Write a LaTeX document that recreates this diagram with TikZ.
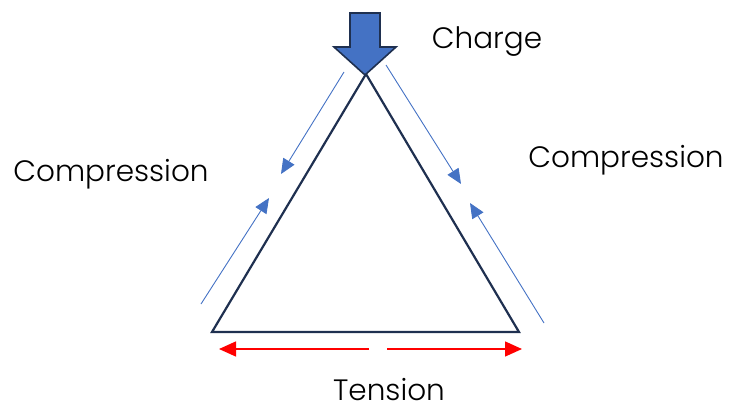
\documentclass[tikz,border=0pt]{standalone}
\usepackage{fontspec}
\setmainfont{Poppins Light}
\usetikzlibrary{arrows.meta}
\definecolor{navy}{HTML}{1F3050}
\definecolor{mblue}{HTML}{4472C4}
\definecolor{mred}{HTML}{FF0000}
\tikzset{
  frame/.style={draw=navy,line width=2.2pt,line join=miter},
  comp/.style={draw=mblue,line width=0.9pt,-{Triangle[length=15pt,width=13pt]}},
  tens/.style={draw=mred,line width=1.4pt,-{Triangle[length=17pt,width=15pt]}},
  lbl/.style={font=\fontsize{29.5}{32}\selectfont,inner sep=0pt,text=black,anchor=base}
}
\begin{document}
\begin{tikzpicture}[x=1pt,y=-1pt]
\useasboundingbox (0,0) rectangle (729,410);
% triangle corners
\coordinate (A) at (366,74);
\coordinate (B) at (212,332);
\coordinate (C) at (519,332);
\draw[frame] (A) -- (B) -- (C) -- cycle;
% load arrow
\draw[draw=navy,fill=mblue,line width=1.6pt,line join=miter]
  (350,13) -- (380,13) -- (380,47) -- (396,47) -- (365,75) -- (334,47) -- (350,47) -- cycle;
% compression arrows left
\coordinate (l1s) at (344,72);
\coordinate (l1e) at (281,174);
\coordinate (l2s) at (201,304);
\coordinate (l2e) at (269,198);
\draw[comp] (l1s) -- (l1e);
\draw[comp] (l2s) -- (l2e);
% compression arrows right
\coordinate (r1s) at (386,65);
\coordinate (r1e) at (461,184);
\coordinate (r2s) at (544,323);
\coordinate (r2e) at (470,203);
\draw[comp] (r1s) -- (r1e);
\draw[comp] (r2s) -- (r2e);
% tension arrows
\coordinate (t1s) at (369,349);
\coordinate (t1e) at (219,349);
\coordinate (t2s) at (387,349);
\coordinate (t2e) at (522,349);
\draw[tens] (t1s) -- (t1e);
\draw[tens] (t2s) -- (t2e);
% labels
\node[lbl] (charge) at (487,48) {Charge};
\node[lbl] (compL) at (111,181) {Compression};
\node[lbl] (compR) at (626,167) {Compression};
\node[lbl] (tension) at (389,400) {Tension};
\end{tikzpicture}
\end{document}
